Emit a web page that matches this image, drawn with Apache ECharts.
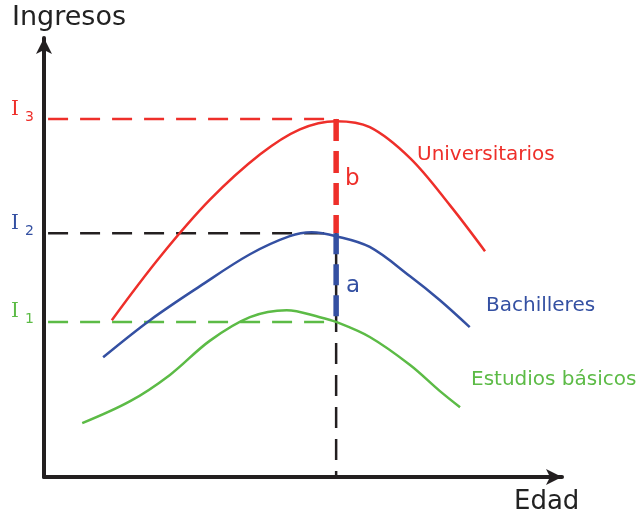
<!DOCTYPE html>
<html>
<head>
<meta charset="utf-8">
<script src="https://cdn.jsdelivr.net/npm/echarts@6/dist/echarts.min.js"></script>
<style>
  html, body { margin: 0; padding: 0; background: #fff; }
  #main { width: 641px; height: 515px; }
</style>
</head>
<body>
<div id="main"></div>
<script>
// curvas de ingresos segun edad (unidades abstractas)
var universitarios = [[13.3,36.4],[22.7,51.0],[32.5,64.3],[42.4,74.9],[50.2,80.7],[57.3,82.6],[63.9,81.2],[71.8,74.0],[79.6,63.1],[86.5,52.4]];
var bachilleres = [[11.6,27.8],[20.8,36.4],[30.6,44.3],[40.4,51.7],[48.2,55.9],[52.5,56.8],[57.3,55.9],[63.9,53.4],[71.8,46.6],[77.6,41.1],[83.5,34.8]];
var basicos = [[7.5,12.5],[16.9,17.6],[24.7,23.7],[32.5,31.6],[40.4,37.1],[47.6,38.7],[54.1,37.1],[57.3,36.0],[63.9,32.5],[71.8,26.0],[77.6,20.0],[81.6,16.2]];

// niveles de ingreso y edad de referencia
var niveles = [83.1, 56.6, 36.0];   // I3, I2, I1
var edadRef = 57.3;
var etiquetas = ['3', '2', '1'];

var rojo = '#ee2f2a', azul = '#3450a2', verde = '#5cbb46', negro = '#231f20';

var chart = echarts.init(document.getElementById('main'));

function linea(data, color, width, dash, z){
  return {
    type: 'line', data: data, symbol: 'none', silent: true, z: z || 2,
    lineStyle: { color: color, width: width, type: dash || 'solid' }
  };
}
function curva(data, color){
  var s = linea(data, color, 2.5, 'solid', 3);
  s.smooth = 0.35;
  return s;
}

var series = [];
// lineas horizontales punteadas
series.push(linea([[0.8, niveles[0]], [edadRef, niveles[0]]], rojo, 2.5, [20, 12]));
series.push(linea([[0.8, niveles[1]], [edadRef, niveles[1]]], negro, 2.5, [20, 12]));
series.push(linea([[0.8, niveles[2]], [edadRef, niveles[2]]], verde, 2.5, [20, 12]));
// linea vertical
series.push(linea([[edadRef, niveles[0]], [edadRef, 0]], negro, 2.5, [21, 11]));
// tramos b y a
series.push(linea([[edadRef, niveles[0]], [edadRef, niveles[1]]], rojo, 5.5, [22, 10], 4));
series.push(linea([[edadRef, niveles[1]], [edadRef, niveles[2]]], azul, 5.5, [21, 10], 4));
// curvas
series.push(curva(universitarios, rojo));
series.push(curva(bachilleres, azul));
series.push(curva(basicos, verde));

var ff = 'DejaVu Sans';
function texto(left, top, str, color, size, fam){
  return { type: 'text', left: left, top: top, style: { text: str, fill: color, fontSize: size, fontFamily: fam || ff } };
}

var option = {
  animation: false,
  grid: { left: 44, right: 79, top: 38, bottom: 38 },
  xAxis: {
    type: 'value', min: 0, max: 101.6,
    axisLine: { lineStyle: { color: negro, width: 4 }, symbol: ['none', 'arrow'], symbolSize: [12, 16] },
    axisTick: { show: false }, axisLabel: { show: false }, splitLine: { show: false }
  },
  yAxis: {
    type: 'value', min: 0, max: 101.9,
    axisLine: { show: true, lineStyle: { color: negro, width: 4 }, symbol: ['none', 'arrow'], symbolSize: [12, 16] },
    axisTick: { show: false }, axisLabel: { show: false }, splitLine: { show: false }
  },
  series: series,
  graphic: [
    texto(12, 4, 'Ingresos', '#222', 27),
    texto(514, 489, 'Edad', '#222', 26),
    texto(417, 145, 'Universitarios', rojo, 20),
    texto(486, 296, 'Bachilleres', azul, 20),
    texto(471, 370, 'Estudios básicos', verde, 20),
    texto(345, 168, 'b', rojo, 23),
    texto(346, 275, 'a', azul, 23),
    texto(11, 100, 'I', rojo, 20, 'DejaVu Serif'),
    texto(25, 110, etiquetas[0], rojo, 14),
    texto(11, 214, 'I', azul, 20, 'DejaVu Serif'),
    texto(25, 224, etiquetas[1], azul, 14),
    texto(11, 302, 'I', verde, 20, 'DejaVu Serif'),
    texto(25, 312, etiquetas[2], verde, 14)
  ]
};
chart.setOption(option);
</script>
</body>
</html>
